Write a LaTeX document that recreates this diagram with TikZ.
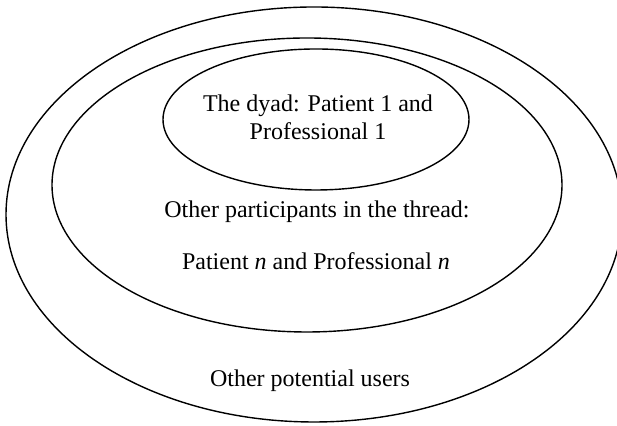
\documentclass[tikz,border=0pt]{standalone}
\usepackage{fontspec}
\setmainfont{Liberation Serif}
\begin{document}
\begin{tikzpicture}[x=0.5pt,y=0.5pt,
  ring/.style={draw,line width=0.7pt},
  txt/.style={font=\fontsize{12}{14}\selectfont,inner sep=0pt,anchor=base}]
    \useasboundingbox (0,0) rectangle (617,426);
    \clip (0,0) rectangle (617,426);
    % nested groups, widest first
    \draw[ring] (314,211.5) ellipse [x radius=308,y radius=207.5];
    \draw[ring] (307,241) ellipse [x radius=255,y radius=147];
    \draw[ring] (316,306.5) ellipse [x radius=153,y radius=70.5];
    %
    \node[txt,align=center] (dyad) at (318,286)
      {The dyad: Patient 1 and\\Professional 1};
    \node[txt] (thread) at (317,208) {Other participants in the thread:};
    \node[txt] (pairs) at (316,156) {Patient \textit{n} and Professional \textit{n}};
    \node[txt] (users) at (310,39) {Other potential users};
\end{tikzpicture}
\end{document}
